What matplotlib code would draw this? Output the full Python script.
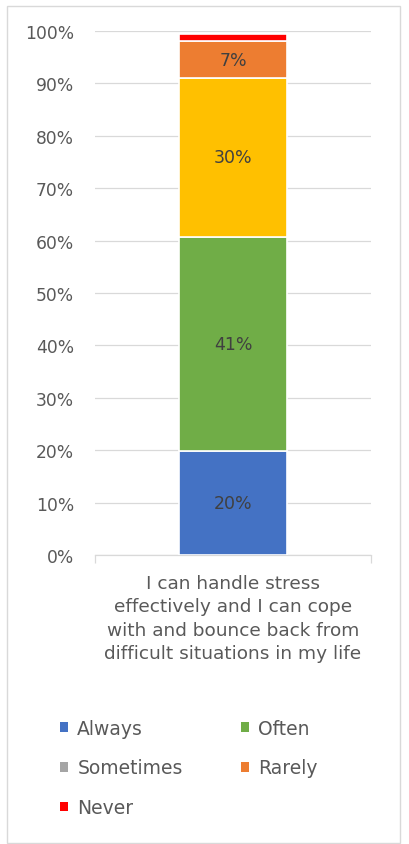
import matplotlib
matplotlib.use("Agg")
import matplotlib.pyplot as plt
from matplotlib.patches import Rectangle, Patch
from matplotlib.ticker import PercentFormatter

# ---- data ----
category = "I can handle stress\neffectively and I can cope\nwith and bounce back from\ndifficult situations in my life"
series = ["Always", "Often", "Sometimes", "Rarely", "Never"]
values = [19.8, 40.9, 30.4, 6.9, 1.4]
value_labels = ["20%", "41%", "30%", "7%", ""]
bar_colors = ["#4472C4", "#70AD47", "#FFC000", "#ED7D31", "#FF0000"]
legend_colors = ["#4472C4", "#70AD47", "#A5A5A5", "#ED7D31", "#FF0000"]
y_ticks = [0, 10, 20, 30, 40, 50, 60, 70, 80, 90, 100]

W, H = 409, 845
fig = plt.figure(figsize=(W / 100, H / 100), dpi=100)
fig.patch.set_facecolor("white")

ax = fig.add_axes([95 / W, 1 - 556 / H, 276 / W, 524 / H])

bottom = 0
for v, lab, c in zip(values, value_labels, bar_colors):
    ax.bar([0], [v], bottom=bottom, width=0.39, color=c, edgecolor="white",
           linewidth=1.2, zorder=3)
    if lab:
        ax.text(0, bottom + v / 2, lab, ha="center", va="center",
                fontsize=12.5, color="#404040", zorder=4)
    bottom += v

ax.set_xlim(-0.5, 0.5)
ax.set_ylim(0, 100)
ax.set_yticks(y_ticks)
ax.yaxis.set_major_formatter(PercentFormatter(decimals=0))
ax.tick_params(axis="y", length=0, pad=15, labelsize=12.3, labelcolor="#595959")
ax.grid(axis="y", color="#D9D9D9", linewidth=0.9, zorder=0)
ax.set_axisbelow(True)

ax.set_xticks([-0.5, 0.5])
ax.set_xticklabels(["", ""])
ax.tick_params(axis="x", which="major", length=6, color="#D9D9D9", width=0.9)
ax.set_xticks([0], minor=True)
ax.set_xticklabels([category], minor=True)
ax.tick_params(axis="x", which="minor", length=0, pad=14, labelsize=13.3,
               labelcolor="#595959")
for lbl in ax.get_xticklabels(minor=True):
    lbl.set_linespacing(1.36)

for s in ["left", "right", "top"]:
    ax.spines[s].set_visible(False)
ax.spines["bottom"].set_color("#D9D9D9")
ax.spines["bottom"].set_linewidth(0.9)

# legend (row-wise order for 2 columns)
handles = [Patch(facecolor=c, edgecolor="none") for c in legend_colors]
order = [0, 2, 4, 1, 3]
fig.legend([handles[i] for i in order], [series[i] for i in order],
           ncol=2, loc="upper left", bbox_to_anchor=(43 / W, 1 - 703 / H),
           frameon=False, fontsize=13.5, labelcolor="#595959",
           handlelength=0.43, handleheight=0.43, handletextpad=0.5,
           columnspacing=3.1, labelspacing=1.1)

# chart border
fig.add_artist(Rectangle((7 / W, 1 - 844 / H), 393 / W, 837 / H,
                         transform=fig.transFigure, fill=False,
                         edgecolor="#D9D9D9", linewidth=1.0))

fig.savefig("out.png", dpi=100)
